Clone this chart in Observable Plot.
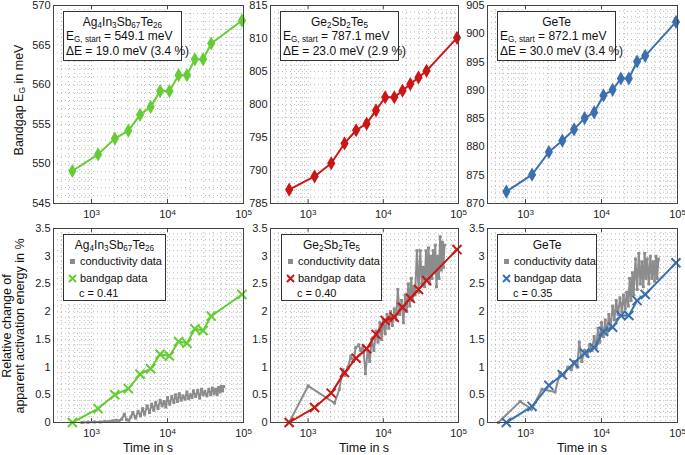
<!DOCTYPE html>
<html><head><meta charset="utf-8">
<script src="https://cdn.jsdelivr.net/npm/d3@7"></script>
<script src="https://cdn.jsdelivr.net/npm/@observablehq/plot@0.6"></script>
<style>
body{margin:0;background:#fff;font-family:"Liberation Sans",Arial,sans-serif;}
#wrap{position:relative;width:685px;height:455px;overflow:hidden;background:#fff;}
.leg{position:absolute;border:1px solid #333;background:#fff;box-sizing:border-box;}
.t{position:absolute;white-space:nowrap;font-size:12px;color:#111;line-height:14px;}
.t.s{font-size:11px;}
.t sub{font-size:0.68em;vertical-align:-0.3em;line-height:0;}
.lab{position:absolute;white-space:nowrap;font-size:12.5px;color:#111;line-height:13px;}
.lab.tx{line-height:11px;}
</style></head><body><div id="wrap"></div>
<script>
// ---------------- data ----------------
const samples = ["Ag4In3Sb67Te26", "Ge2Sb2Te5", "GeTe"];
const times = [560, 1220, 2030, 3050, 4350, 6000, 8000, 10600, 14000, 18000, 22900, 29400, 37600, 95500];
const gapAIST = [549.1, 551.2, 553.2, 554.2, 556.2, 557.2, 559.2, 559.2, 561.2, 561.2, 563.2, 563.2, 565.2, 568.1];
const gapGST  = [787.1, 789.1, 791.1, 794.1, 796.1, 797.1, 799.1, 801.1, 801.1, 802.1, 803.1, 804.1, 805.1, 810.1];
const gapGeTe = [872.1, 875.1, 879.1, 881.1, 883.1, 885.1, 886.1, 889.1, 890.1, 892.1, 892.1, 895.1, 896.1, 902.1];
const relAIST = [0, 0.25, 0.50, 0.61, 0.87, 0.97, 1.23, 1.20, 1.46, 1.43, 1.69, 1.66, 1.92, 2.31];
const relGST  = [0, 0.27, 0.53, 0.90, 1.16, 1.33, 1.59, 1.84, 1.90, 2.08, 2.24, 2.40, 2.56, 3.12];
const relGeTe = [0, 0.29, 0.67, 0.86, 1.07, 1.25, 1.35, 1.64, 1.72, 1.93, 1.93, 2.20, 2.31, 2.88];
const eStart = ["549.1", "787.1", "872.1"];
const deltaE = ["19.0 meV (3.4 %)", "23.0 meV (2.9 %)", "30.0 meV (3.4 %)"];
const corr = ["0.41", "0.40", "0.35"];

const condTimeAIST = [750, 900, 1100, 1300, 1500, 1700, 1900, 2100, 2300, 2500, 2700, 2900, 3100, 3300, 3500, 3800, 4100, 4400, 4700, 5000, 5400, 5800, 6200, 6600, 7000, 7500, 8000, 8500, 9000, 9500, 10000, 10700, 11400, 12100, 12800, 13500, 14300, 15100, 16000, 17000, 18000, 19000, 20000, 21000, 22000, 23500, 25000, 26500, 28000, 29500, 31000, 33000, 35000, 37000, 39000, 41000, 43000, 45000, 47000, 49000, 51000, 53000, 55000];
const condAIST = [0, 0.005, 0.01, 0.01, 0.02, 0.02, 0.03, 0.04, 0.03, 0.06, 0.15, 0.05, 0.04, 0.1, 0.18, 0.08, 0.2, 0.12, 0.25, 0.15, 0.3, 0.18, 0.33, 0.22, 0.36, 0.25, 0.4, 0.3, 0.38, 0.28, 0.45, 0.33, 0.47, 0.36, 0.5, 0.38, 0.52, 0.4, 0.48, 0.42, 0.55, 0.43, 0.5, 0.45, 0.57, 0.47, 0.58, 0.44, 0.6, 0.5, 0.56, 0.48, 0.6, 0.5, 0.62, 0.52, 0.6, 0.5, 0.63, 0.55, 0.65, 0.57, 0.65];

const condTimeGST = [560, 1000, 2250, 2600, 2900, 3100, 3400, 3700, 4000, 4300, 4700, 5000, 5400, 5800, 6200, 6600, 7000, 7500, 8000, 8500, 9000, 9500, 10000, 10600, 11200, 11800, 12500, 13200, 14000, 14800, 15600, 16500, 17500, 18500, 19500, 20500, 21500, 22500, 23500, 24500, 25500, 26500, 28000, 29500, 31000, 32500, 34000, 35500, 37000, 38500, 40000, 41500, 43000, 44500, 46000, 47500, 49000, 51000, 53000, 55000, 57000, 59000, 61000, 63000, 65000];
const condGST = [0, 0.66, 0.35, 0.6, 0.95, 0.85, 1.0, 1.2, 1.1, 1.35, 1.4, 1.3, 1.38, 0.88, 1.3, 1.1, 1.5, 1.3, 1.65, 1.45, 1.8, 1.5, 1.85, 1.6, 1.95, 1.7, 2.0, 1.75, 2.05, 1.85, 2.4, 1.95, 2.2, 1.8, 2.3, 2.0, 2.5, 2.1, 2.6, 2.2, 2.45, 2.3, 3.1, 2.35, 3.1, 2.5, 2.8, 2.45, 3.1, 2.6, 3.15, 2.5, 3.0, 2.6, 3.1, 2.7, 3.2, 2.45, 3.0, 2.6, 3.35, 2.75, 3.25, 2.8, 3.2];

const condTimeGeTe = [440, 850, 1200, 1650, 2450, 2850, 3200, 3600, 4000, 4400, 4800, 5100, 5500, 6000, 6500, 7000, 7500, 8000, 8500, 9000, 9500, 10000, 10600, 11200, 11800, 12500, 13200, 14000, 14800, 15600, 16500, 17500, 18500, 19500, 20500, 21500, 22500, 23500, 24500, 25500, 26500, 28000, 29500, 31000, 32500, 34000, 35500, 37000, 38500, 40000, 42000, 44000, 46000, 48000, 50000, 52000, 54000, 56000];
const condGeTe = [0, 0.38, 0.24, 0.6, 0.55, 0.9, 0.85, 1.0, 0.95, 1.1, 1.0, 1.45, 1.1, 1.3, 1.2, 1.4, 1.3, 1.55, 1.35, 1.7, 1.45, 1.8, 1.55, 1.85, 1.6, 1.95, 1.7, 2.1, 1.85, 2.2, 1.95, 2.25, 2.0, 2.3, 2.05, 2.35, 2.1, 2.6, 2.2, 2.7, 2.3, 2.95, 2.4, 3.05, 2.5, 2.9, 2.45, 3.05, 2.6, 2.95, 2.5, 3.0, 2.6, 2.9, 2.55, 3.0, 2.6, 2.95];

const colors = ["#66cc33", "#cc1515", "#3a70b0"];
const gray = "#8c8c8c";
const xTicks = [1e3, 1e4, 1e5];
const yDomainsTop = [[545, 570], [785, 815], [870, 905]];
const yDomainBottom = [0, 3.5];

// --------------- layout ---------------
const wrap = document.getElementById("wrap");
const cols = [[53, 243], [270, 458], [487, 677]];
const rows = [[5, 203], [228, 422]];
const FONT = '"Liberation Sans", Arial, sans-serif';

function rows2(t, v) { return t.map((d, i) => ({t: d, v: v[i]})); }

function superscripts(svg) {
  svg.querySelectorAll("text").forEach(el => {
    const m = el.textContent.match(/^10\^(\d)$/);
    if (m) {
      el.textContent = "10";
      const ts = document.createElementNS("http://www.w3.org/2000/svg", "tspan");
      ts.setAttribute("dy", "-0.45em");
      ts.setAttribute("font-size", "8");
      ts.textContent = m[1];
      el.appendChild(ts);
    }
  });
}

function panel(col, row, yDomain, yStep, yMinorStep, main, cond, color, kind) {
  const [x0, x1] = cols[col];
  const [y0, y1] = rows[row];
  const mL = 50, mT = 8, mR = 14, mB = 30;
  const minorX = [];
  for (let k = 2; k <= 4; k++) for (let m = 1; m <= 9; m++) {
    const v = m * 10 ** k;
    if (v > 10 ** 2.5 && v < 1e5) minorX.push(v);
  }
  const minorY = d3.range(yDomain[0], yDomain[1] + 1e-9, yMinorStep).slice(1, -1);
  const yMajor = d3.range(yDomain[0], yDomain[1] + 1e-9, yStep);
  const span = yDomain[1] - yDomain[0];
  const marks = [
    Plot.ruleX(minorX, {stroke: "#a8a8a8", strokeWidth: 0.8, strokeDasharray: "1,3"}),
    Plot.ruleY(minorY, {stroke: "#a8a8a8", strokeWidth: 0.8, strokeDasharray: "1,3"}),
    Plot.ruleX(xTicks, {y1: yDomain[0], y2: yDomain[0] + span * 0.02, stroke: "#444"}),
    Plot.ruleX(xTicks, {y1: yDomain[1], y2: yDomain[1] - span * 0.02, stroke: "#444"})
  ];
  if (cond) {
    marks.push(Plot.line(cond, {x: "t", y: "v", stroke: gray, strokeWidth: 2}));
    marks.push(Plot.dot(cond, {x: "t", y: "v", symbol: "square", r: 1.7, fill: gray}));
  }
  marks.push(Plot.line(main, {x: "t", y: "v", stroke: color, strokeWidth: 2}));
  if (kind === "diamond") {
    marks.push(Plot.dot(main, {x: "t", y: "v", symbol: "diamond", r: 4.3, fill: color}));
  } else {
    marks.push(Plot.dot(main, {x: "t", y: "v", symbol: "times", r: 4.2, stroke: color, strokeWidth: 2}));
  }
  marks.push(Plot.frame({stroke: "#444", strokeWidth: 1}));
  const chart = Plot.plot({
    width: x1 - x0 + mL + mR, height: y1 - y0 + mT + mB,
    marginLeft: mL, marginRight: mR, marginTop: mT, marginBottom: mB,
    style: {background: "transparent", overflow: "visible", fontFamily: FONT, fontSize: "11px", color: "#222"},
    x: {type: "log", domain: [10 ** 2.5, 1e5], ticks: xTicks,
        tickFormat: d => "10^" + Math.round(Math.log10(d)), tickSize: 0, tickPadding: 7, label: null},
    y: {domain: yDomain, ticks: yMajor,
        tickFormat: d => String(+d.toFixed(2)), tickSize: 0, tickPadding: 3, label: null},
    marks
  });
  chart.style.position = "absolute";
  chart.style.left = (x0 - mL) + "px";
  chart.style.top = (y0 - mT) + "px";
  superscripts(chart);
  wrap.appendChild(chart);
}

const gaps = [gapAIST, gapGST, gapGeTe];
const rels = [relAIST, relGST, relGeTe];
const conds = [rows2(condTimeAIST, condAIST), rows2(condTimeGST, condGST), rows2(condTimeGeTe, condGeTe)];

for (let i = 0; i < 3; i++) {
  panel(i, 0, yDomainsTop[i], 5, 1, rows2(times, gaps[i]), null, colors[i], "diamond");
  panel(i, 1, yDomainBottom, 0.5, 0.1, rows2(times, rels[i]), conds[i], colors[i], "times");
}

// --------------- text ---------------
function formula(s) { return s.replace(/(\d+)/g, "<sub>$1</sub>"); }
function addText(html, x, y, anchor, cls, lh) {
  const d = document.createElement("div");
  d.className = cls || "t";
  d.innerHTML = html;
  d.style.left = x + "px";
  d.style.top = (y - (lh || 14) / 2) + "px";
  if (anchor === "middle") d.style.transform = "translateX(-50%)";
  wrap.appendChild(d);
  return d;
}
function addBox(x0, y0, x1, y1) {
  const b = document.createElement("div");
  b.className = "leg";
  b.style.left = x0 + "px"; b.style.top = y0 + "px";
  b.style.width = (x1 - x0) + "px"; b.style.height = (y1 - y0) + "px";
  wrap.appendChild(b);
}

const topBoxes = [[63, 182], [280, 399], [497, 616]];
const botBoxes = [[63, 166], [281, 382], [497, 597]];
for (let i = 0; i < 3; i++) {
  const [bx0, bx1] = topBoxes[i];
  addBox(bx0, 11, bx1, 61);
  addText(formula(samples[i]), (bx0 + bx1) / 2, 22, "middle");
  addText("E<sub>G, start</sub> = " + eStart[i] + " meV", bx0 + 3, 36);
  addText("ΔE = " + deltaE[i], bx0 + 3, 51);

  const [cx0, cx1] = botBoxes[i];
  addBox(cx0, 234, cx1, 301);
  addText(formula(samples[i]), (cx0 + cx1) / 2, 245, "middle");
  addText('<span style="display:inline-block;width:5px;height:5px;background:' + gray + ';margin:0 5px 2px 5px;vertical-align:middle"></span>conductivity data', cx0 + 2, 261, null, "t s");
  addText('<svg width="9" height="9" style="margin:0 3px 0 3px;vertical-align:-1px"><path d="M1,1L8,8M8,1L1,8" stroke="' + colors[i] + '" stroke-width="2"/></svg>bandgap data', cx0 + 2, 278, null, "t s");
  addText("c = " + corr[i], cx0 + 16, 293, null, "t s");

  const [px0, px1] = cols[i];
  addText("Time in s", (px0 + px1) / 2, 448.5, "middle", "lab tx", 11);
}

// y-axis titles
function rotLabel(html, cx, cy) {
  const d = document.createElement("div");
  d.className = "lab";
  d.innerHTML = html;
  d.style.left = cx + "px";
  d.style.top = cy + "px";
  d.style.transform = "translate(-50%,-50%) rotate(-90deg)";
  wrap.appendChild(d);
}
rotLabel('Bandgap E<sub style="font-size:0.68em;vertical-align:-0.3em;line-height:0">G</sub> in meV', 19, 100);
rotLabel("Relative change of", 7, 326);
rotLabel("apparent activation energy in %", 20, 326);
</script></body></html>
